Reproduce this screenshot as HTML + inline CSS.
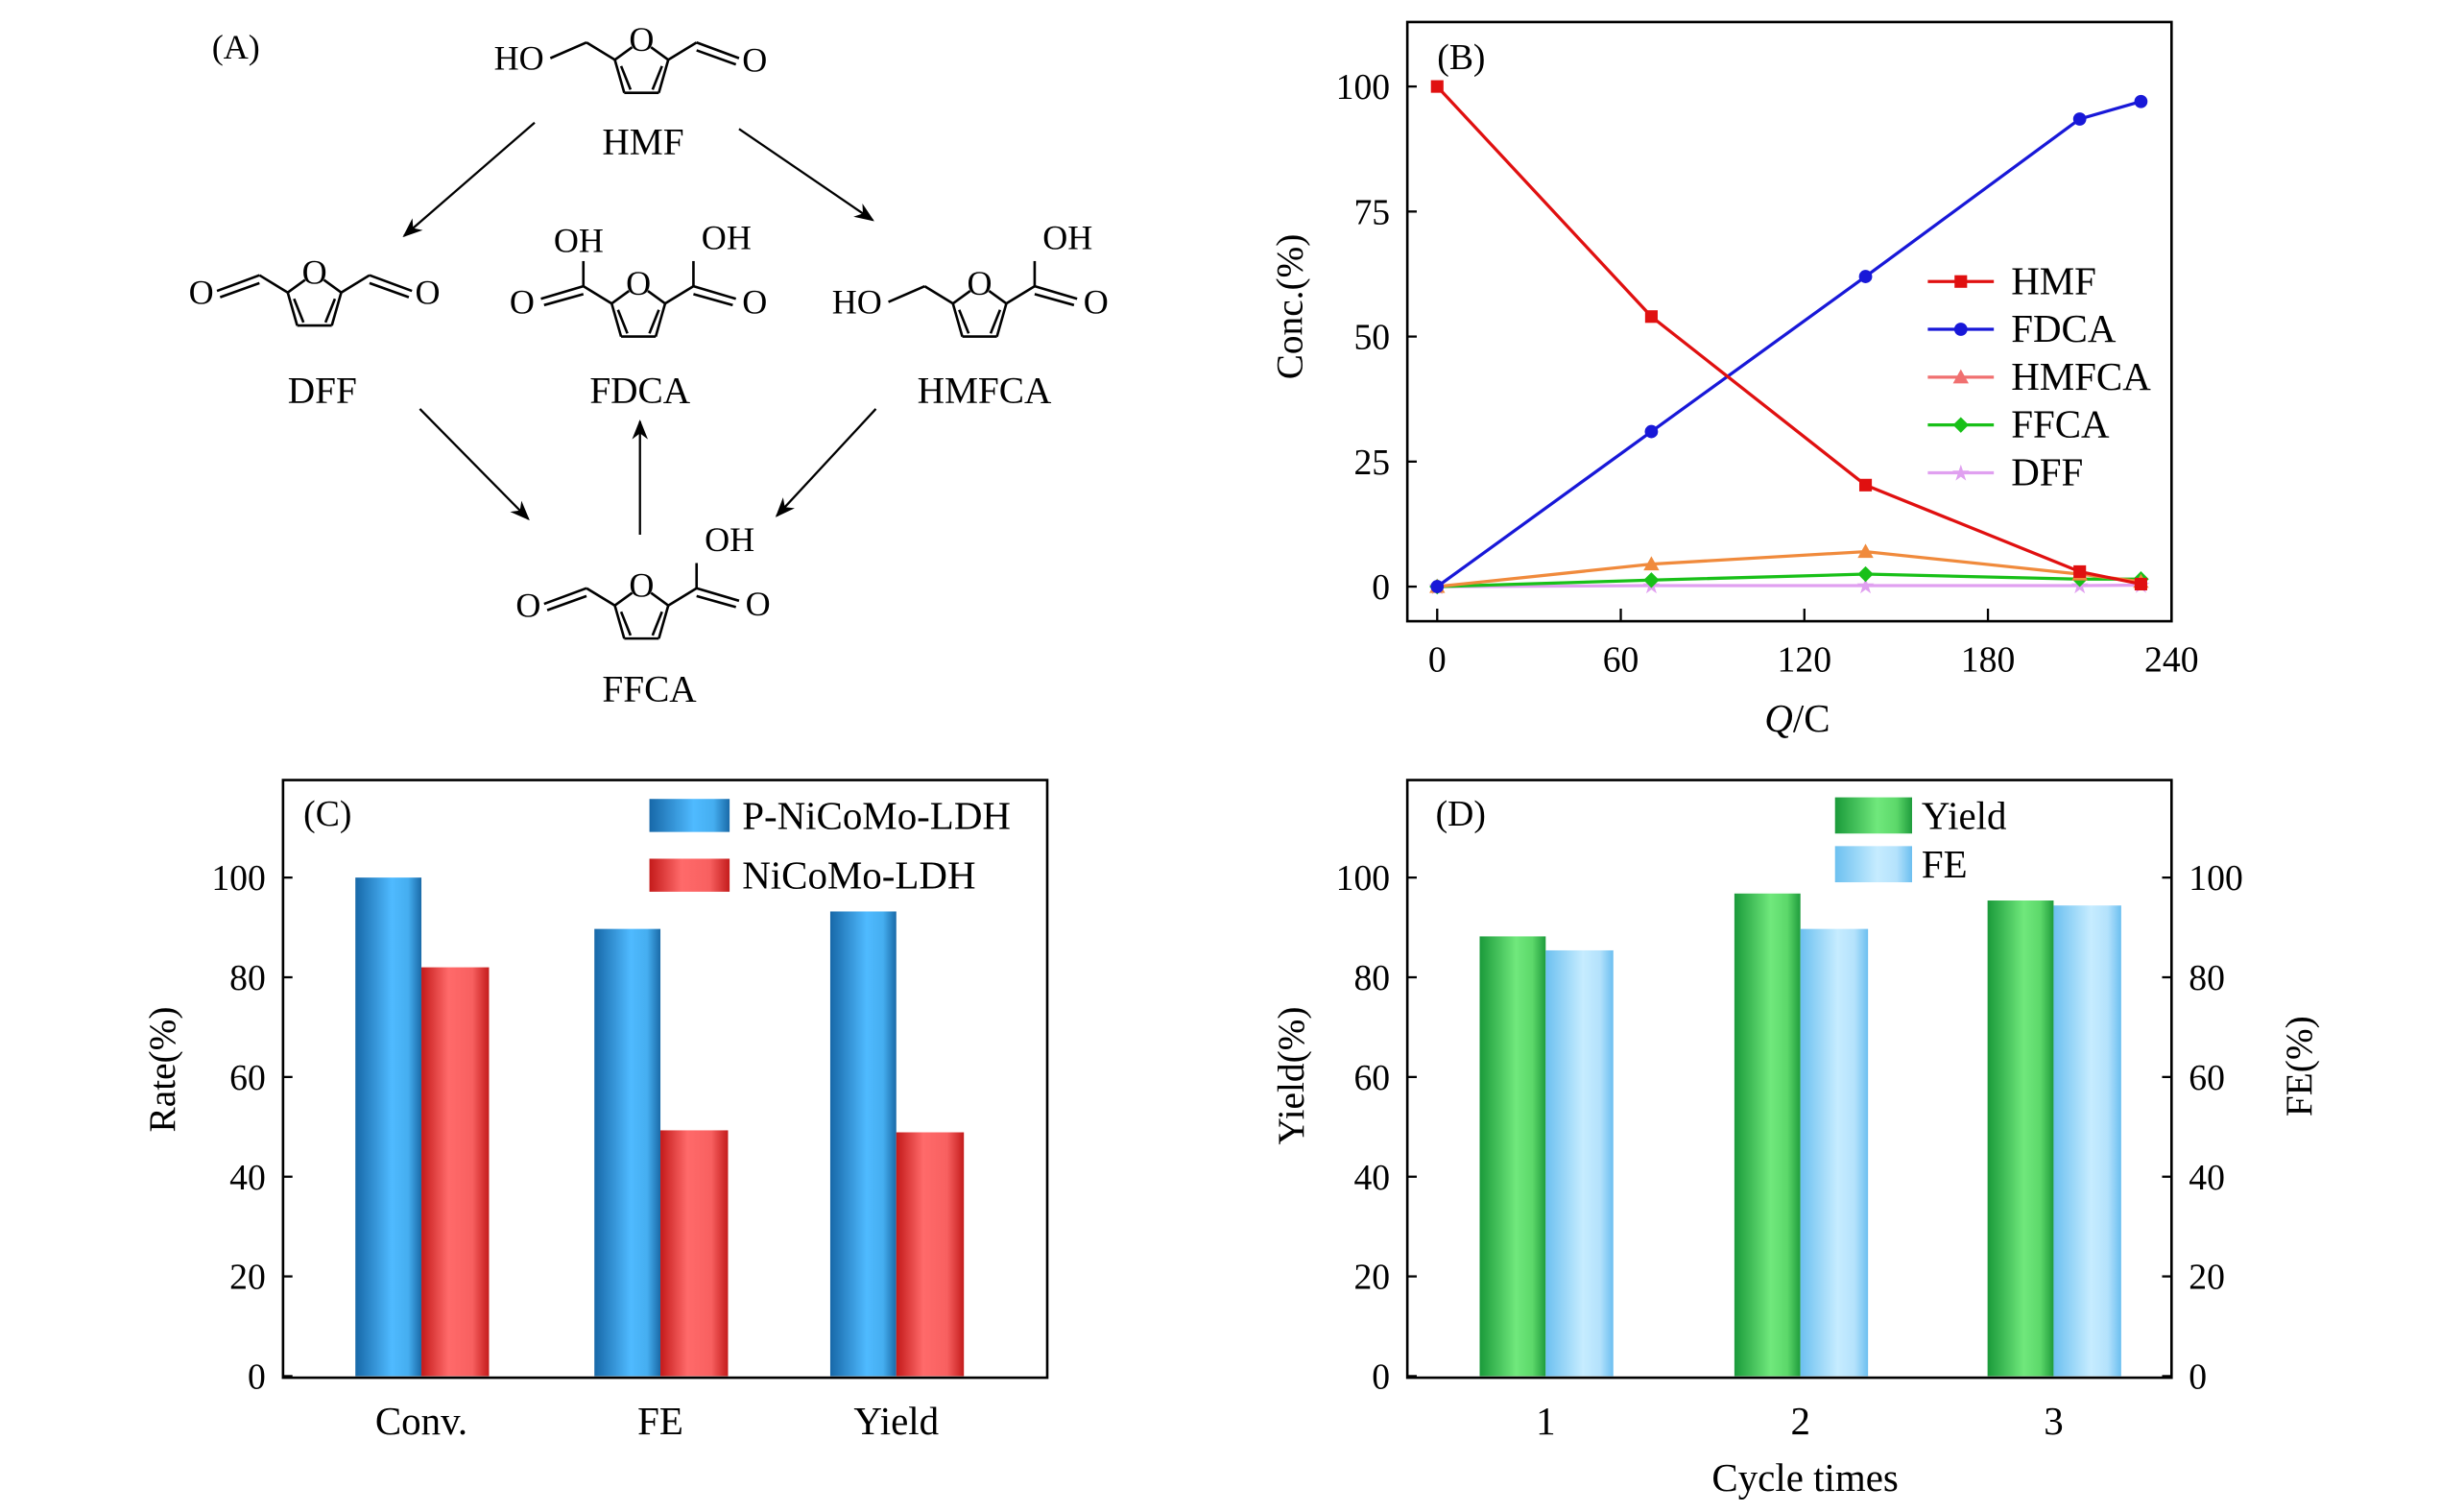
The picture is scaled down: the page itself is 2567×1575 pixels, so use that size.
<!DOCTYPE html>
<html><head><meta charset="utf-8"><style>
html,body{margin:0;padding:0;background:#fff;}
svg{display:block;font-family:"Liberation Serif",serif;}
</style></head><body>
<svg id="fig" width="2567" height="1575" viewBox="0 0 1567 961.4" preserveAspectRatio="none" xmlns="http://www.w3.org/2000/svg">
<defs>
<linearGradient id="gBlue" x1="0" x2="1" y1="0" y2="0"><stop offset="0" stop-color="#1768a8"/><stop offset="0.55" stop-color="#4fbaff"/><stop offset="0.8" stop-color="#45aef0"/><stop offset="1" stop-color="#1a6aa8"/></linearGradient>
<linearGradient id="gRed" x1="0" x2="1" y1="0" y2="0"><stop offset="0" stop-color="#c41a1a"/><stop offset="0.4" stop-color="#ff6a6a"/><stop offset="0.75" stop-color="#f86060"/><stop offset="1" stop-color="#c41c1c"/></linearGradient>
<linearGradient id="gGreen" x1="0" x2="1" y1="0" y2="0"><stop offset="0" stop-color="#1a9a3a"/><stop offset="0.55" stop-color="#70e87c"/><stop offset="0.8" stop-color="#5cd86a"/><stop offset="1" stop-color="#1f9c3c"/></linearGradient>
<linearGradient id="gLight" x1="0" x2="1" y1="0" y2="0"><stop offset="0" stop-color="#6cc0f0"/><stop offset="0.55" stop-color="#c6ecff"/><stop offset="0.8" stop-color="#b4e2fc"/><stop offset="1" stop-color="#6cbff0"/></linearGradient>
<marker id="arr" viewBox="0 0 10 10" refX="9" refY="5" markerWidth="9" markerHeight="9" orient="auto"><path d="M0,1 L10,5 L0,9 L3,5 z" fill="#000"/></marker>
</defs>
<g id="panelA"></g>
<g id="panelB"></g>
<g id="panelC"></g>
<g id="panelD"></g>
</svg>
<script>
// ---------- data ----------
const qValues = [0, 70, 140, 210, 230];
const hmfConc = [100, 54, 20.3, 3, 0.5];
const fdcaConc = [0, 31, 62, 93.5, 97];
const hmfcaConc = [0, 4.5, 7, 2.5, 1];
const ffcaConc = [0, 1.3, 2.5, 1.5, 1.5];
const dffConc = [0, 0.2, 0.2, 0.2, 0.3];
const bTicksX = [0, 60, 120, 180, 240];
const bTicksY = [0, 25, 50, 75, 100];
const rateCategories = ["Conv.", "FE", "Yield"];
const rateP = [100, 89.7, 93.2];
const rateN = [82, 49.3, 48.9];
const cycleCategories = ["1", "2", "3"];
const cycleYield = [88.2, 96.8, 95.4];
const cycleFE = [85.4, 89.7, 94.4];
const barTicksY = [0, 20, 40, 60, 80, 100];

const NS = "http://www.w3.org/2000/svg";
function mk(parent, tag, attrs, text) {
  const e = document.createElementNS(NS, tag);
  for (const k in attrs) e.setAttribute(k, attrs[k]);
  if (text !== undefined) e.textContent = text;
  parent.appendChild(e);
  return e;
}

// ---------- Panel A ----------
const A = document.getElementById('panelA');
function line(x1,y1,x2,y2,w){return mk(A,'line',{x1,y1,x2,y2,stroke:'#000','stroke-width':w||1.6});}
function txt(x,y,s,size,name){
  const t = mk(A,'text',{x,y,'font-size':size||24,'text-anchor':'middle','dominant-baseline':'central'},s);
  
  
  return t;
}
function furan(ox,oy,left,right){
  const C2=[ox-17,oy+13],C5=[ox+17,oy+13],C3=[ox-11,oy+34],C4=[ox+11,oy+34];
  line(ox-6,oy+5,C2[0],C2[1]); line(ox+6,oy+5,C5[0],C5[1]);
  line(C2[0],C2[1],C3[0],C3[1]); line(C3[0],C3[1],C4[0],C4[1]); line(C4[0],C4[1],C5[0],C5[1]);
  line(C2[0]+4,C2[1]+4,C3[0]+4,C3[1]-2); line(C5[0]-4,C5[1]+4,C4[0]-4,C4[1]-2);
  txt(ox,oy,'O',22,'ring-oxygen');
  const lc=[ox-35,oy+2];
  line(C2[0],C2[1],lc[0],lc[1]);
  if(left==='CHO'){ line(lc[0],lc[1],ox-62,oy+12); line(lc[0],lc[1]+5,ox-60,oy+16); txt(ox-72,oy+13,'O',22); }
  if(left==='CH2OH'){ line(lc[0],lc[1],ox-58,oy+12); txt(ox-78,oy+12,'HO',22); }
  if(left==='COOH'){ line(lc[0],lc[1],ox-62,oy+10); line(lc[0],lc[1]+5,ox-60,oy+14); txt(ox-74,oy+12,'O',22); line(lc[0],lc[1],lc[0],oy-14); txt(ox-38,oy-27,'OH',22); }
  const rc=[ox+35,oy+2];
  line(C5[0],C5[1],rc[0],rc[1]);
  if(right==='CHO'){ line(rc[0],rc[1],ox+62,oy+12); line(rc[0],rc[1]+5,ox+60,oy+16); txt(ox+72,oy+13,'O',22); }
  if(right==='COOH'){ line(rc[0],rc[1],ox+62,oy+10); line(rc[0],rc[1]+5,ox+60,oy+14); txt(ox+74,oy+12,'O',22); line(rc[0],rc[1],rc[0],oy-14); txt(ox+56,oy-29,'OH',22); }
}
furan(408,25,'CH2OH','CHO');
furan(200,173,'CHO','CHO');
furan(406,180,'COOH','COOH');
furan(623,180,'CH2OH','COOH');
furan(408,372,'CHO','COOH');
txt(150,30,'(A)',22,'panel-a-label');
txt(409,90,'HMF',24,'hmf-name');
txt(205,248,'DFF',24,'dff-name');
txt(407,248,'FDCA',24,'fdca-name');
txt(626,248,'HMFCA',24,'hmfca-name');
txt(413,438,'FFCA',24,'ffca-name');
[[340,78,257,150],[470,82,555,140],[267,260,336,330],[557,260,494,328],[407,340,407,268]].forEach(a=>{
  const l=mk(A,'line',{x1:a[0],y1:a[1],x2:a[2],y2:a[3],stroke:'#000','stroke-width':1.4,'marker-end':'url(#arr)'});
  
  
});

// ---------- Panel B ----------
const B = document.getElementById('panelB');
const bx0=895,bx1=1381,by0=14,by1=395;
const xB = v => 914 + v*(1381-914)/240;
const yB = v => 373 - v*(373-55)/100;
let el;
el=mk(B,'rect',{x:bx0,y:by0,width:bx1-bx0,height:by1-by0,fill:'none',stroke:'#000','stroke-width':1.6});


bTicksX.forEach(v=>{
  mk(B,'line',{x1:xB(v),y1:by1,x2:xB(v),y2:by1-8,stroke:'#000','stroke-width':1.4});
  el=mk(B,'text',{x:xB(v),y:427,'font-size':23,'text-anchor':'middle'},String(v));
  
  
});
bTicksY.forEach(v=>{
  mk(B,'line',{x1:bx0,y1:yB(v),x2:bx0+6,y2:yB(v),stroke:'#000','stroke-width':1.4});
  el=mk(B,'text',{x:884,y:yB(v)+8,'font-size':23,'text-anchor':'end'},String(v));
  
  
});
el=mk(B,'text',{x:0,y:0,'font-size':24,'text-anchor':'middle',transform:'translate(828,195) rotate(-90)'},'Conc.(%)');


el=mk(B,'text',{x:1143,y:465,'font-size':25,'text-anchor':'middle'});


mk(el,'tspan',{'font-style':'italic'},'Q'); mk(el,'tspan',{},'/C');
el=mk(B,'text',{x:914,y:44,'font-size':23},'(B)');



function marker(g,type,x,y,c){
  if(type==='sq') return mk(g,'rect',{x:x-4,y:y-4,width:8,height:8,fill:c});
  if(type==='ci') return mk(g,'circle',{cx:x,cy:y,r:4.2,fill:c});
  if(type==='tr') return mk(g,'polygon',{points:`${x},${y-5} ${x+5},${y+4} ${x-5},${y+4}`,fill:c});
  if(type==='di') return mk(g,'polygon',{points:`${x},${y-5} ${x+5},${y} ${x},${y+5} ${x-5},${y}`,fill:c});
  if(type==='st') return mk(g,'text',{x,y:y+5,'font-size':14,'text-anchor':'middle',fill:c},'★');
}
const seriesB=[
  ['HMF',hmfConc,'#e01010','#e01010','sq'],
  ['FDCA',fdcaConc,'#1818d8','#1818d8','ci'],
  ['HMFCA',hmfcaConc,'#f08a3c','#f07070','tr'],
  ['FFCA',ffcaConc,'#18c018','#18c018','di'],
  ['DFF',dffConc,'#e0a0f0','#e0a0f0','st']
];
seriesB.slice().reverse().forEach(s=>{
  const g=mk(B,'g',{});
  
  
  const pts=qValues.map((q,i)=>xB(q)+','+yB(s[1][i])).join(' ');
  mk(g,'polyline',{points:pts,fill:'none',stroke:s[2],'stroke-width':2});
  qValues.forEach((q,i)=>{
    const m=marker(g,s[4],xB(q),yB(s[1][i]),s[2]==='#f08a3c'?'#f08a3c':s[3]);
    
    
  });
});
seriesB.forEach((s,i)=>{
  const y=179+i*30.4;
  const g=mk(B,'g',{});
  
  
  mk(g,'line',{x1:1226,y1:y,x2:1268,y2:y,stroke:s[3],'stroke-width':2});
  marker(g,s[4],1247,y,s[3]);
  mk(g,'text',{x:1279,y:y+8,'font-size':25},s[0]);
});

// ---------- Bar panels ----------
const yBar = v => 875 - v*(875-558)/100;
function barPanel(G,x0,cats,catX,s1,s2,f1,f2,right){
  let e=mk(G,'rect',{x:x0,y:496,width:486,height:380,fill:'none',stroke:'#000','stroke-width':1.6});
  
  
  cats.forEach((c,i)=>{
    const cx=catX(i);
    e=mk(G,'rect',{x:cx-42,y:yBar(s1[i]),width:42,height:yBar(0)-yBar(s1[i]),fill:f1});
    
    
    e=mk(G,'rect',{x:cx,y:yBar(s2[i]),width:43,height:yBar(0)-yBar(s2[i]),fill:f2});
    
    
    e=mk(G,'text',{x:cx,y:912,'font-size':25,'text-anchor':'middle'},c);
    
    
  });
  barTicksY.forEach(v=>{
    mk(G,'line',{x1:x0,y1:yBar(v),x2:x0+6,y2:yBar(v),stroke:'#000','stroke-width':1.4});
    e=mk(G,'text',{x:x0-11,y:yBar(v)+8,'font-size':23,'text-anchor':'end'},String(v));
    
    
    if(right){
      mk(G,'line',{x1:x0+486,y1:yBar(v),x2:x0+480,y2:yBar(v),stroke:'#000','stroke-width':1.4});
      e=mk(G,'text',{x:x0+497,y:yBar(v)+8,'font-size':23,'text-anchor':'start'},String(v));
      
      
    }
  });
}
const C=document.getElementById('panelC');
barPanel(C,180,rateCategories,i=>[268,420,570][i],rateP,rateN,'url(#gBlue)','url(#gRed)',false);
el=mk(C,'text',{x:0,y:0,'font-size':24,'text-anchor':'middle',transform:'translate(111,680) rotate(-90)'},'Rate(%)');


el=mk(C,'text',{x:193,y:525,'font-size':23},'(C)');


[['P-NiCoMo-LDH','url(#gBlue)',508],['NiCoMo-LDH','url(#gRed)',546]].forEach(l=>{
  const g=mk(C,'g',{});
  
  
  mk(g,'rect',{x:413,y:l[2],width:51,height:21,fill:l[1]});
  mk(g,'text',{x:472,y:l[2]+19,'font-size':25},l[0]);
});

const D=document.getElementById('panelD');
barPanel(D,895,cycleCategories,i=>[983,1145,1306][i],cycleYield,cycleFE,'url(#gGreen)','url(#gLight)',true);
el=mk(D,'text',{x:0,y:0,'font-size':24,'text-anchor':'middle',transform:'translate(829,684) rotate(-90)'},'Yield(%)');


el=mk(D,'text',{x:0,y:0,'font-size':24,'text-anchor':'middle',transform:'translate(1470,678) rotate(-90)'},'FE(%)');


el=mk(D,'text',{x:1148,y:948,'font-size':25,'text-anchor':'middle'},'Cycle times');


el=mk(D,'text',{x:913,y:525,'font-size':23},'(D)');


[['Yield','url(#gGreen)',507],['FE','url(#gLight)',538]].forEach(l=>{
  const g=mk(D,'g',{});
  
  
  mk(g,'rect',{x:1167,y:l[2],width:49,height:23,fill:l[1]});
  mk(g,'text',{x:1222,y:l[2]+20,'font-size':25},l[0]);
});
</script>
</body></html>
